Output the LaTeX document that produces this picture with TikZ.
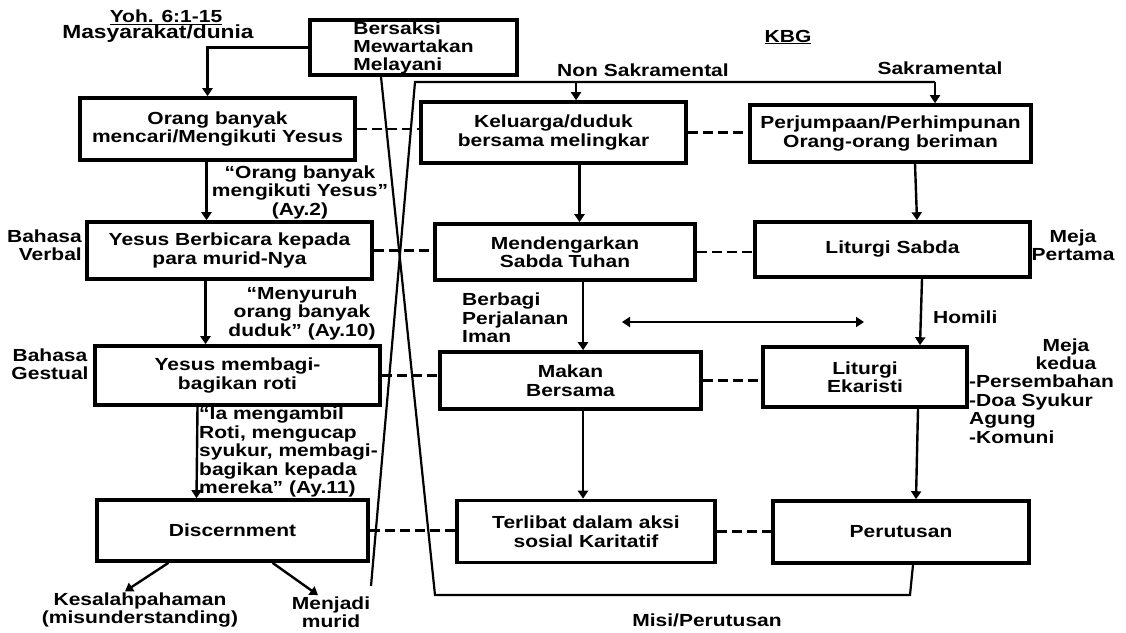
\documentclass[tikz,border=0pt]{standalone}
\usepackage{fontspec}
\setmainfont{Liberation Sans}[FakeStretch=1.2]
\usetikzlibrary{arrows.meta}
\tikzset{
  kotak/.style={draw, line width=3.6pt, align=center, inner sep=2pt},
  teks/.style={align=center, inner sep=1pt},
  panah/.style={line width=2.4pt, -{Triangle[width=10pt,length=8pt]}},
  putus/.style={line width=2.4pt, dash pattern=on 10pt off 5pt},
  garis/.style={line width=2.2pt},
}
\begin{document}
\begin{tikzpicture}[x=1pt,y=-1pt,font=\fontsize{17.5}{18.5}\selectfont\bfseries]
\useasboundingbox (0,0) rectangle (1126,632);
% kotak-kotak
\node[kotak, align=left, inner ysep=0pt, font=\fontsize{17.5}{18}\selectfont\bfseries, minimum width=207, minimum height=55] (bersaksi) at (413.5,47.5) {Bersaksi\\Mewartakan\\Melayani};
\node[kotak, minimum width=275, minimum height=62] (orang) at (217.5,129) {Orang banyak\\mencari/Mengikuti Yesus};
\node[kotak, minimum width=265, minimum height=61] (keluarga) at (553.5,132.5) {Keluarga/duduk\\bersama melingkar};
\node[kotak, minimum width=281, minimum height=57] (perjumpaan) at (890.5,133.5) {Perjumpaan/Perhimpunan\\Orang-orang beriman};
\node[kotak, minimum width=285, minimum height=57] (berbicara) at (229.5,250.5) {Yesus Berbicara kepada\\para murid-Nya};
\node[kotak, minimum width=260, minimum height=56] (mendengar) at (565,252) {Mendengarkan\\Sabda Tuhan};
\node[kotak, minimum width=275, minimum height=55] (sabda) at (892.5,249.5) {Liturgi Sabda};
\node[kotak, minimum width=285, minimum height=59] (membagi) at (237.5,375.5) {Yesus membagi-\\bagikan roti};
\node[kotak, minimum width=261, minimum height=57] (makan) at (570.5,380.5) {Makan\\Bersama};
\node[kotak, minimum width=204, minimum height=60] (ekaristi) at (865,377) {Liturgi\\Ekaristi};
\node[kotak, minimum width=271, minimum height=61] (discern) at (232.5,530.5) {Discernment};
\node[kotak, minimum width=258, minimum height=62] (terlibat) at (586,531.5) {Terlibat dalam aksi\\sosial Karitatif};
\node[kotak, minimum width=256, minimum height=62] (perutusan) at (901,532) {Perutusan};
% tulisan
\node[teks] (yoh) at (166,17) {\underline{Yoh. 6:1-15}};
\node[teks, font=\fontsize{19}{19}\selectfont\bfseries] (masyarakat) at (158,34) {Masyarakat/dunia};
\node[teks] (kbg) at (788,37) {\underline{KBG}};
\node[teks] (nonsak) at (643,70) {Non Sakramental};
\node[teks] (sak) at (940,68) {Sakramental};
\node[teks] (ay2) at (300,192) {“Orang banyak\\mengikuti Yesus”\\(Ay.2)};
\node[teks, align=right, anchor=east] (verbal) at (83,245) {Bahasa\\Verbal};
\node[teks] (ay10) at (302,313) {“Menyuruh\\orang banyak\\duduk” (Ay.10)};
\node[teks] (gestual) at (50,364) {Bahasa\\Gestual};
\node[teks, align=left, anchor=west] (ay11) at (198,452) {“Ia mengambil\\Roti, mengucap\\syukur, membagi-\\bagikan kepada\\mereka” (Ay.11)};
\node[teks] (salah) at (140,610) {Kesalahpahaman\\(misunderstanding)};
\node[teks] (murid) at (331,612) {Menjadi\\murid};
\node[teks, align=left, anchor=west] (berbagi) at (461,318) {Berbagi\\Perjalanan\\Iman};
\node[teks, anchor=west] (homili) at (932,317) {Homili};
\node[teks] (meja1) at (1073,245) {Meja\\Pertama};
\node[teks] (meja2) at (1066,354) {Meja\\kedua};
\node[teks, align=left, anchor=west] (bagian) at (968,409) {-Persembahan\\-Doa Syukur\\Agung\\-Komuni};
\node[teks] (misi) at (707,620) {Misi/Perutusan};
% titik bantu
\coordinate (x1) at (371,586);
\coordinate (x2) at (415,82);
\coordinate (ns1) at (576,82);
\coordinate (ns2) at (935,82);
\coordinate (m1) at (435,595);
\coordinate (m2) at (910,595);
\coordinate (d1) at (622,322);
\coordinate (d2) at (864,322);
% panah kiri
\draw[panah] (bersaksi.west) -| ([xshift=-10]orang.north);
\draw[panah] ([xshift=-11]orang.south) -- ([xshift=-11]orang.south |- berbicara.north);
\draw[panah] ([xshift=-24]berbicara.south) -- ([xshift=-24]berbicara.south |- membagi.north);
\draw[panah] ([xshift=-40]membagi.south) -- ([xshift=-36]discern.north);
\draw[panah] ([xshift=-64]discern.south) -- ([xshift=-15]salah.north);
\draw[panah] ([xshift=40]discern.south) -- ([xshift=-13]murid.north);
% panah kanan
\draw[garis] (x1) -- (x2) -- (ns2);
\draw[panah] (ns1) -- (ns1 |- keluarga.north);
\draw[panah] (ns2) -- (ns2 |- perjumpaan.north);
\draw[panah] ([xshift=26]keluarga.south) -- ([xshift=26]keluarga.south |- mendengar.north);
\draw[panah] ([xshift=18]mendengar.south) -- ([xshift=18]mendengar.south |- makan.north);
\draw[panah] ([xshift=12.5]makan.south) -- ([xshift=12.5]makan.south |- terlibat.north);
\draw[panah] ([xshift=24.5]perjumpaan.south) -- ([xshift=24.5]sabda.north);
\draw[panah] ([xshift=29.5]sabda.south) -- ([xshift=55]ekaristi.north);
\draw[panah] ([xshift=53]ekaristi.south) -- ([xshift=15]perutusan.north);
\draw[line width=2.2pt, {Triangle[width=10pt,length=8pt]}-{Triangle[width=10pt,length=8pt]}] (d1) -- (d2);
\draw[garis] ([xshift=-32.5]bersaksi.south) -- (m1) -- (m2) -- ([xshift=12]perutusan.south);
% garis putus
\draw[putus] (orang.east) -- (orang.east -| keluarga.west);
\draw[putus] (keluarga.east) -- (keluarga.east -| perjumpaan.west);
\draw[putus] (berbicara.east) -- (berbicara.east -| mendengar.west);
\draw[putus] (mendengar.east) -- (mendengar.east -| sabda.west);
\draw[putus] (membagi.east) -- (membagi.east -| makan.west);
\draw[putus] (makan.east) -- (makan.east -| ekaristi.west);
\draw[putus] (discern.east) -- (discern.east -| terlibat.west);
\draw[putus] (terlibat.east) -- (terlibat.east -| perutusan.west);
\end{tikzpicture}
\end{document}
